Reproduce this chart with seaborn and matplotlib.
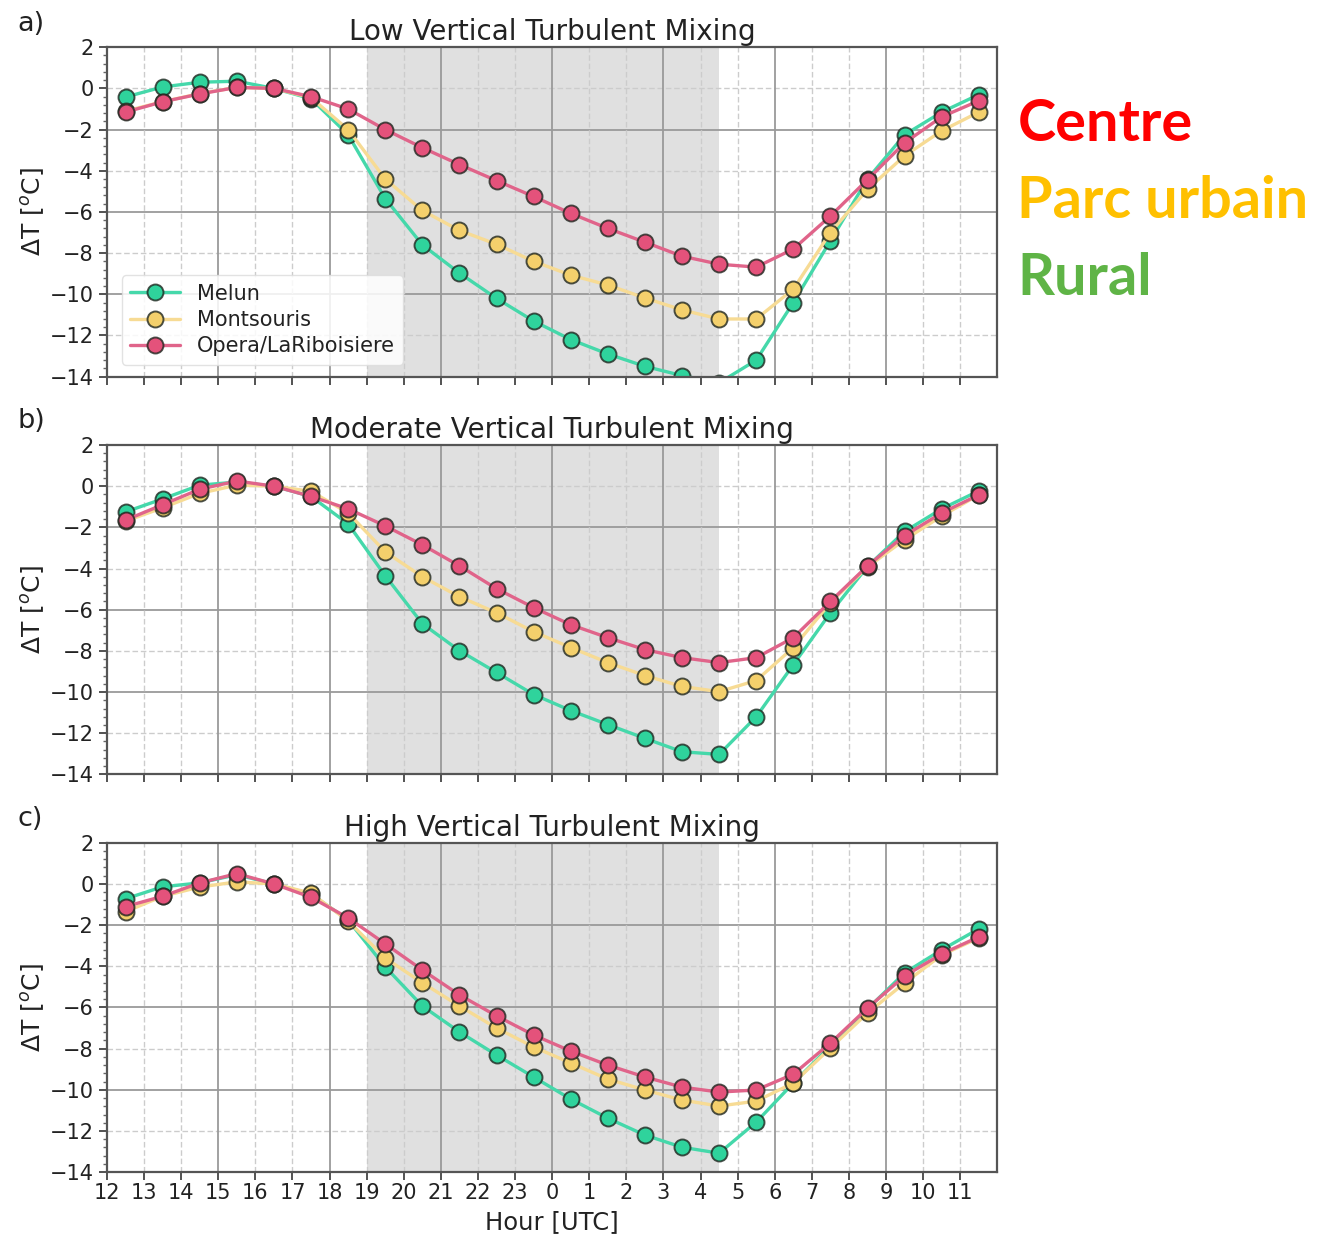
import numpy as np
import pandas as pd
import matplotlib
matplotlib.use("Agg")
import matplotlib.pyplot as plt
import seaborn as sns
from matplotlib.ticker import MultipleLocator, FixedLocator
from matplotlib.lines import Line2D

# ---------------- data ----------------
hours = [12.5 + i for i in range(24)]          # 12:30 ... 11:30 (next day)
tick_pos = list(range(12, 36))
tick_labels = [str(h % 24) for h in tick_pos]

stations = ["Melun", "Montsouris", "Opera/LaRiboisiere"]
panel_titles = ["Low Vertical Turbulent Mixing",
                "Moderate Vertical Turbulent Mixing",
                "High Vertical Turbulent Mixing"]
panel_letters = ["a)", "b)", "c)"]

melun_low = [-0.42, 0.07, 0.3, 0.35, 0.0, -0.5, -2.25, -5.35, -7.6, -8.97, -10.2, -11.3,
             -12.2, -12.9, -13.5, -13.95, -14.3, -13.2, -10.4, -7.4, -4.4, -2.25, -1.15, -0.3]
montsouris_low = [-1.1, -0.65, -0.25, 0.05, 0.0, -0.45, -2.0, -4.4, -5.93, -6.9, -7.57, -8.4,
                  -9.07, -9.55, -10.18, -10.76, -11.2, -11.2, -9.75, -7.0, -4.9, -3.27, -2.06, -1.15]
opera_low = [-1.15, -0.65, -0.27, 0.05, 0.0, -0.4, -1.0, -2.0, -2.88, -3.7, -4.48, -5.25,
             -6.07, -6.8, -7.47, -8.15, -8.54, -8.68, -7.8, -6.2, -4.43, -2.64, -1.38, -0.6]

melun_mod = [-1.25, -0.62, 0.05, 0.2, 0.0, -0.5, -1.83, -4.35, -6.68, -7.99, -9.05, -10.12,
             -10.9, -11.58, -12.25, -12.9, -13.03, -11.2, -8.67, -6.15, -3.9, -2.2, -1.1, -0.23]
montsouris_mod = [-1.7, -1.05, -0.35, 0.05, 0.0, -0.25, -1.3, -3.19, -4.4, -5.37, -6.15, -7.07,
                  -7.84, -8.57, -9.2, -9.73, -9.98, -9.44, -7.84, -5.66, -3.92, -2.6, -1.45, -0.42]
opera_mod = [-1.65, -0.9, -0.15, 0.25, 0.0, -0.5, -1.1, -1.93, -2.85, -3.87, -4.98, -5.9,
             -6.73, -7.36, -7.94, -8.33, -8.57, -8.33, -7.36, -5.6, -3.87, -2.4, -1.3, -0.42]

melun_high = [-0.72, -0.14, 0.05, 0.45, 0.0, -0.5, -1.75, -4.03, -5.93, -7.19, -8.31, -9.38,
              -10.45, -11.38, -12.2, -12.79, -13.08, -11.57, -9.67, -7.87, -6.07, -4.32, -3.2, -2.18]
montsouris_high = [-1.35, -0.6, -0.15, 0.1, 0.0, -0.45, -1.8, -3.6, -4.8, -5.93, -7.0, -7.92,
                   -8.7, -9.48, -10.01, -10.5, -10.79, -10.55, -9.67, -7.97, -6.27, -4.81, -3.45, -2.62]
opera_high = [-1.1, -0.6, 0.05, 0.5, 0.0, -0.65, -1.65, -2.91, -4.18, -5.39, -6.41, -7.34,
              -8.12, -8.8, -9.38, -9.87, -10.11, -10.01, -9.24, -7.73, -6.03, -4.47, -3.4, -2.57]

panel_data = [
    [melun_low, montsouris_low, opera_low],
    [melun_mod, montsouris_mod, opera_mod],
    [melun_high, montsouris_high, opera_high],
]

night_start, night_end = 19.0, 28.5

# ---------------- styles ----------------
line_colors = ["#45d8aa", "#f7db94", "#e0648a"]
face_colors = ["#2fd39c", "#f4d06c", "#e4527b"]
edge_color = (0.12, 0.15, 0.12, 0.8)
txt_color = "#222222"

sns.set_theme(style="white")
plt.rcParams['font.family'] = ['DejaVu Sans']

fig = plt.figure(figsize=(13.37, 12.43), dpi=100)
left, width = 0.080, 0.666
tops = [0.962, 0.642, 0.322]
height = 0.265

axes = []
for p in range(3):
    ax = fig.add_axes([left, tops[p] - height, width, height])
    axes.append(ax)
    ax.set_facecolor("white")
    ax.axvspan(night_start, night_end, color="#e0e0e0", zorder=0, lw=0)

    # grid lines
    for yv in [-12, -8, -4, 0]:
        ax.axhline(yv, color="#cccccc", lw=1.0, ls=(0, (4, 2)), zorder=1)
    for yv in [-10, -6, -2]:
        ax.axhline(yv, color="#9a9a9a", lw=1.3, zorder=1)
    for xv in tick_pos:
        if xv % 3 == 0:
            ax.axvline(xv, color="#9a9a9a", lw=1.3, zorder=1)
        else:
            ax.axvline(xv, color="#cccccc", lw=1.0, ls=(0, (4, 2)), zorder=1)

    for s, name in enumerate(stations):
        sns.lineplot(x=hours, y=panel_data[p][s], ax=ax, color=line_colors[s],
                     linewidth=2.4, marker="o", markersize=11.5,
                     markerfacecolor=face_colors[s], markeredgecolor=edge_color,
                     markeredgewidth=1.4, zorder=3 + s, label=name, legend=False)

    ax.set_xlim(12, 36)
    ax.set_ylim(-14, 2)
    ax.xaxis.set_major_locator(FixedLocator(tick_pos))
    ax.yaxis.set_major_locator(MultipleLocator(2))
    ax.yaxis.set_minor_locator(MultipleLocator(0.4))
    if p == 2:
        ax.set_xticklabels(tick_labels)
        ax.set_xlabel("Hour [UTC]", fontsize=17.5, color=txt_color, labelpad=5)
    else:
        ax.set_xticklabels([])
    ax.tick_params(axis="both", which="major", direction="out", length=6, width=1.3,
                   color="#444444", labelsize=15, labelcolor=txt_color, bottom=True, left=True)
    ax.tick_params(axis="x", which="major", pad=2)
    ax.tick_params(axis="y", which="minor", direction="out", length=3, width=1.0,
                   color="#666666", left=True)
    ax.set_ylabel(r"$\Delta$T [$^o$C]", fontsize=18, color=txt_color, labelpad=2)
    ax.set_title(panel_titles[p], fontsize=20, color=txt_color, pad=5)
    for sp in ax.spines.values():
        sp.set_color("#555555")
        sp.set_linewidth(1.6)
        sp.set_zorder(10)
    fig.text(0.013, tops[p] + 0.019, panel_letters[p], fontsize=19.5, color=txt_color,
             ha="left", va="center")

handles = [Line2D([0], [0], color=line_colors[s], lw=2.4, marker="o", markersize=11.5,
                  markerfacecolor=face_colors[s], markeredgecolor=edge_color,
                  markeredgewidth=1.4) for s in range(3)]
leg = axes[0].legend(handles, stations, loc="lower left", fontsize=15, frameon=True,
                     framealpha=0.85, edgecolor="#dddddd", borderpad=0.4,
                     labelspacing=0.3, handlelength=2.4, handletextpad=0.8,
                     bbox_to_anchor=(0.005, 0.005))
for t in leg.get_texts():
    t.set_color(txt_color)
leg.set_zorder(20)

# side annotations
side_font = ["Lato", "DejaVu Sans"]
fig.text(0.761, 1 - 141 / 1243, "Centre", color="#ff0000", fontsize=41.5,
         fontweight="bold", family=side_font, ha="left", va="baseline")
fig.text(0.761, 1 - 218 / 1243, "Parc urbain", color="#ffc000", fontsize=41.5,
         fontweight="bold", family=side_font, ha="left", va="baseline")
fig.text(0.761, 1 - 295 / 1243, "Rural", color="#5fb446", fontsize=41.5,
         fontweight="bold", family=side_font, ha="left", va="baseline")

fig.savefig("out.png", dpi=100, facecolor="white")
